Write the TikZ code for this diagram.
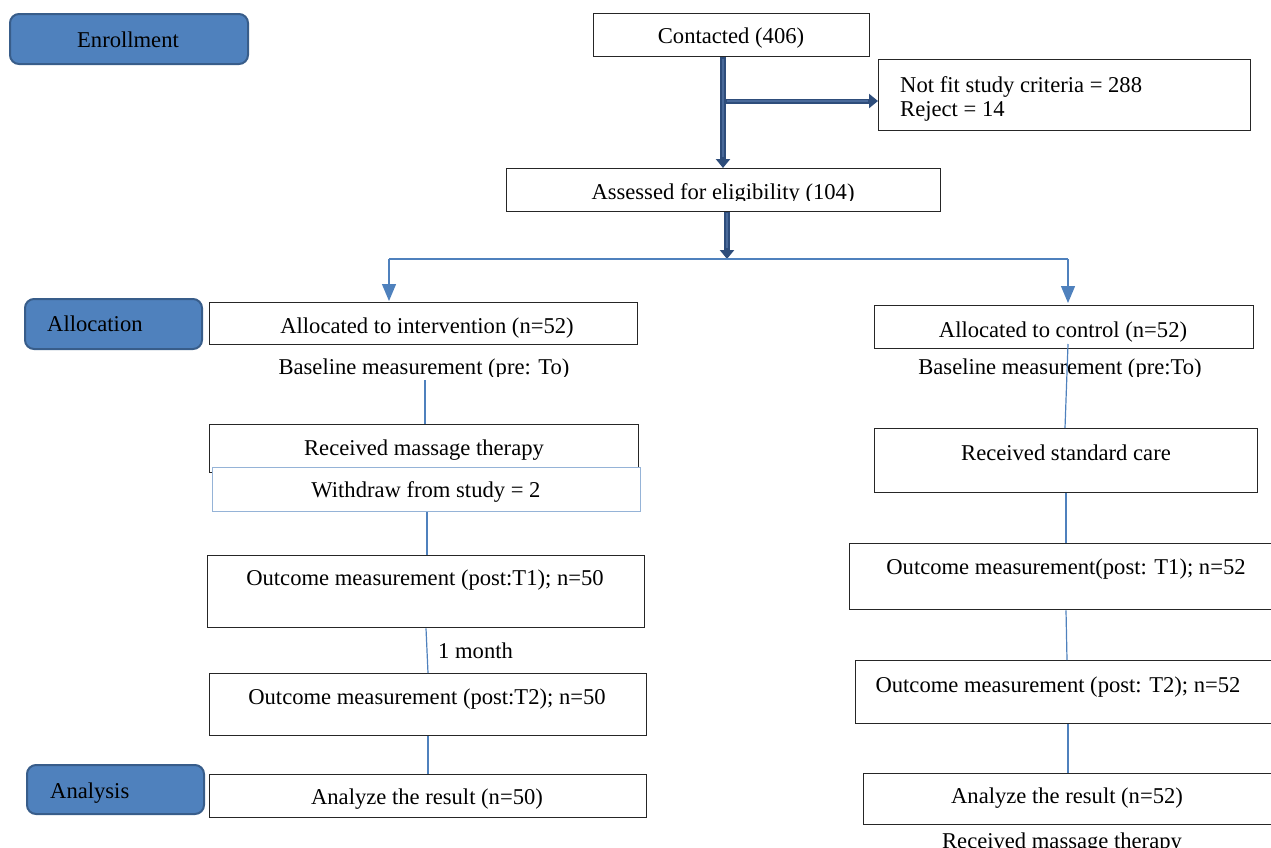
\documentclass[tikz,border=0pt]{standalone}
\usepackage{fontspec}
\setmainfont{Liberation Serif}
\usetikzlibrary{arrows.meta,calc}
\definecolor{accent}{HTML}{4F81BD}
\definecolor{accdark}{HTML}{385D8A}
\definecolor{thickc}{HTML}{2E4D7B}
\definecolor{thickin}{HTML}{4A6A9A}
\definecolor{lightb}{HTML}{95B3D7}
\definecolor{boxline}{HTML}{262626}
\begin{document}
\begin{tikzpicture}[x=1pt,y=-1pt,
  font=\fontsize{22.6}{26}\selectfont,
  box/.style={draw=boxline, line width=1.3pt, anchor=north west, inner sep=0pt, fill=white},
  wbox/.style={draw=lightb, line width=1.3pt, anchor=north west, inner sep=0pt, fill=white},
  stage/.style={draw=accdark, fill=accent, line width=2pt, rounded corners=9pt, anchor=north west, inner sep=0pt},
  txt/.style={anchor=base, inner sep=0pt},
  ltxt/.style={anchor=base west, inner sep=0pt},
  conn/.style={draw=accent, line width=1.2pt},
  tarrow/.style={draw=accent, line width=1.3pt, -{Triangle[width=14pt,length=17pt]}},
  thickarr/.style={draw=thickc, line width=6pt, -{Triangle[width=14pt,length=9pt]}},
  thickin/.style={draw=thickin, line width=2pt}]
\useasboundingbox (0,0) rectangle (1271,847);
\clip (0,0) rectangle (1271,847);

% stage labels
\node[stage, minimum width=238pt, minimum height=50pt] (enr) at (9,13) {};
\node[txt] (enrT) at (128,47) {Enrollment};
\node[stage, minimum width=177pt, minimum height=50pt] (alc) at (24,298) {};
\node[ltxt] (alcT) at (47,331) {Allocation};
\node[stage, minimum width=177pt, minimum height=49pt] (ana) at (26,764) {};
\node[ltxt] (anaT) at (50,798) {Analysis};

% top part
\node[box, minimum width=276pt, minimum height=43pt] (con) at (593,13) {};
\node[txt] (conT) at (731,43) {Contacted (406)};
\node[box, minimum width=372pt, minimum height=71pt] (nf) at (878,59) {};
\node[ltxt] (nfT1) at (900,92) {Not fit study criteria = 288};
\node[ltxt] (nfT2) at (900,116) {Reject = 14};
\node[box, minimum width=434pt, minimum height=43pt] (ass) at (506,168) {};
\begin{scope}
  \clip (0,0) rectangle (1271,200.5);
  \node[txt] (assT) at (723,199) {Assessed for eligibility (104)};
\end{scope}

\coordinate (c1) at (723,0);
\coordinate (br) at (723,101);
\draw[thickarr] (con.south -| c1) -- (ass.north -| c1);
\draw[thickin] ([yshift=-2pt]con.south -| c1) -- ([yshift=11pt]ass.north -| c1);
\draw[thickarr, line width=5pt] ([xshift=3pt]br) -- (nf.west |- br);
\draw[thickin, line width=1.6pt] ([xshift=4pt]br) -- ([xshift=-10pt]nf.west |- br);

\coordinate (split) at (727,259);
\draw[thickarr] (ass.south -| split) -- (split);
\draw[thickin] ([yshift=-1pt]ass.south -| split) -- ([yshift=11pt]split);
\coordinate (tipL) at (389,301);
\coordinate (tipR) at (1068,303);
\draw[conn] (split) -- (split -| tipL);
\draw[conn] (split) -- (split -| tipR);
\draw[tarrow] (split -| tipL) -- (tipL);
\draw[tarrow] (split -| tipR) -- (tipR);

% left branch
\node[box, minimum width=428pt, minimum height=42pt] (ai) at (209,302) {};
\node[txt] (aiT) at (427,333) {Allocated to intervention (n=52)};
\begin{scope}
  \clip (0,0) rectangle (1271,376);
  \node[txt] (blL) at (424,374) {Baseline measurement (pre: To)};
\end{scope}
\node[box, minimum width=429pt, minimum height=48pt] (rm) at (209,424) {};
\node[txt] (rmT) at (424,455) {Received massage therapy};
\node[wbox, minimum width=428pt, minimum height=44pt] (wd) at (212,467) {};
\node[txt] (wdT) at (426,497) {Withdraw from study = 2};
\node[box, minimum width=437pt, minimum height=72pt] (o1L) at (207,555) {};
\node[txt] (o1LT) at (425,585) {Outcome measurement (post:T1); n=50};
\node[ltxt] (mon) at (438,658) {1 month};
\node[box, minimum width=437pt, minimum height=62pt] (o2L) at (209,673) {};
\node[txt] (o2LT) at (427,704) {Outcome measurement (post:T2); n=50};
\node[box, minimum width=437pt, minimum height=43pt] (anL) at (209,774) {};
\node[txt] (anLT) at (427,804) {Analyze the result (n=50)};

\coordinate (l1) at (425,380);
\draw[conn] (l1) -- (rm.north -| l1);
\coordinate (l2) at (427,0);
\draw[conn] (wd.south -| l2) -- (o1L.north -| l2);
\draw[conn] ([xshift=-1pt]o1L.south -| l2) -- ([xshift=1pt]o2L.north -| l2);
\coordinate (l3) at (428,0);
\draw[conn] (o2L.south -| l3) -- (anL.north -| l3);

% right branch
\node[box, minimum width=379pt, minimum height=43pt] (ac) at (874,305) {};
\node[txt] (acT) at (1063,337) {Allocated to control (n=52)};
\begin{scope}
  \clip (0,0) rectangle (1271,376);
  \node[txt] (blR) at (1060,374) {Baseline measurement (pre:To)};
\end{scope}
\node[box, minimum width=383pt, minimum height=64pt] (sc) at (874,428) {};
\node[txt] (scT) at (1066,460) {Received standard care};
\node[box, minimum width=430pt, minimum height=66pt] (o1R) at (849,543) {};
\node[txt] (o1RT) at (1066,574) {Outcome measurement(post: T1); n=52};
\node[box, minimum width=424pt, minimum height=63pt] (o2R) at (855,660) {};
\node[txt] (o2RT) at (1058,692) {Outcome measurement (post: T2); n=52};
\node[box, minimum width=418pt, minimum height=51pt] (anR) at (863,773) {};
\node[txt] (anRT) at (1067,803) {Analyze the result (n=52)};
\node[txt] (rmR) at (1062,848) {Received massage therapy};

\coordinate (r1) at (1068,344);
\draw[conn] (r1) -- ([xshift=-3pt]sc.north -| r1);
\coordinate (r2) at (1066,0);
\draw[conn] (sc.south -| r2) -- (o1R.north -| r2);
\draw[conn] (o1R.south -| r2) -- ([xshift=1pt]o2R.north -| r2);
\coordinate (r3) at (1068,0);
\draw[conn] (o2R.south -| r3) -- (anR.north -| r3);
\end{tikzpicture}
\end{document}
